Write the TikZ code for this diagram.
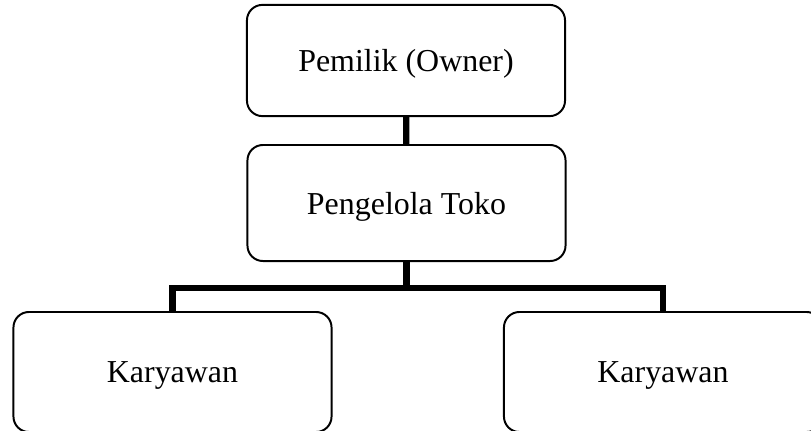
\documentclass[tikz,border=0pt]{standalone}
\usepackage{fontspec}
\setmainfont{Liberation Serif}
\begin{document}
\begin{tikzpicture}[x=0.025cm, y=-0.025cm,
		box/.style={draw, line width=1.4pt, rounded corners=11pt,
			minimum width=7.95cm, inner sep=0pt, text depth=0pt,
			font=\fontsize{22.7}{27}\selectfont},
		link/.style={line width=4.4pt}]
		\useasboundingbox (0,0) rectangle (811,430);
		\clip (0,0) rectangle (811,430);
		
		\node[box, minimum height=2.78cm] (owner) at (406,60.5) {Pemilik (Owner)};
		\node[box, minimum height=2.9cm] (manager) at (406.5,203) {Pengelola Toko};
		
		\node[box, minimum height=3cm] (staffL) at (172.5,372) {Karyawan};
		\node[box, minimum height=3cm] (staffR) at (663,372) {Karyawan};
		
		\coordinate (bus) at (406.5,288);
		
		\draw[link] (owner) -- (manager);
		\draw[link] (manager) -- (bus);
		\draw[link] (staffL.north) |- (bus) -| (staffR.north);
	\end{tikzpicture}
\end{document}
